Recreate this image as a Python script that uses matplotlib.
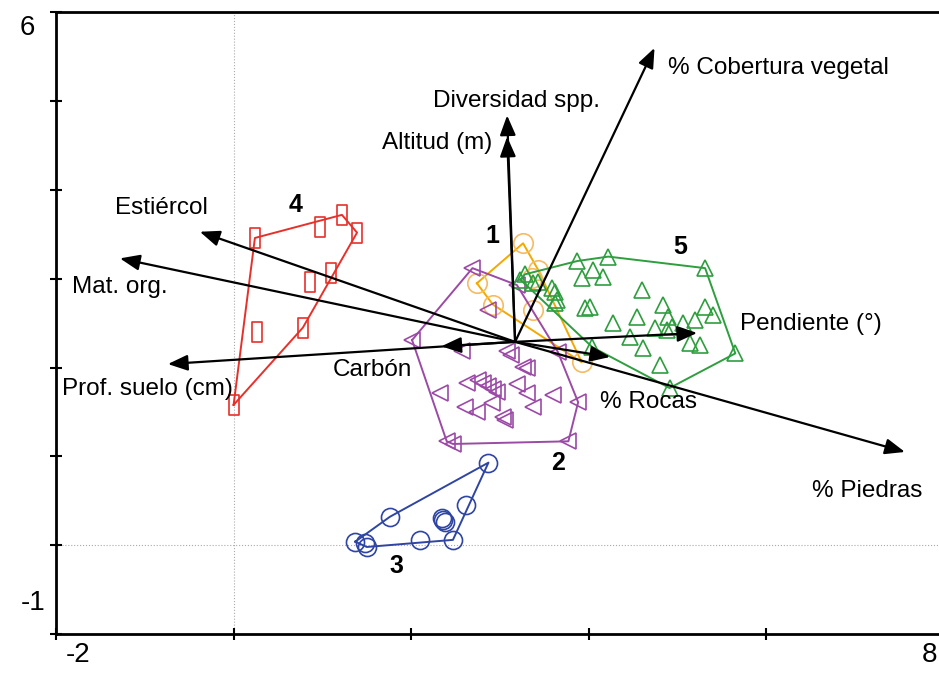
import numpy as np
import matplotlib
matplotlib.use("Agg")
import matplotlib.pyplot as plt
from matplotlib.path import Path

plt.rcParams["font.family"] = ["Liberation Sans", "DejaVu Sans"]

# biplot arrows: origin and tips
arrow_origin = (3.17, 2.29)
arrow_names = ["% Cobertura vegetal", "Diversidad spp.", "Altitud (m)", "Estiércol",
               "Mat. org.", "Prof. suelo (cm)", "Carbón", "Pendiente (°)",
               "% Rocas", "% Piedras"]
arrow_x = [4.74, 3.08, 3.08, -0.38, -1.28, -0.74, 2.34, 5.22, 4.24, 7.56]
arrow_y = [5.60, 4.84, 4.60, 3.53, 3.23, 2.04, 2.24, 2.39, 2.12, 1.05]
label_x = [4.89, 2.25, 1.67, -1.34, -1.82, -1.93, 1.12, 5.70, 4.13, 6.51]
label_y = [5.37, 5.00, 4.53, 3.80, 2.91, 1.76, 1.97, 2.49, 1.61, 0.61]

# groups
g1_x = [3.26, 2.74, 3.43, 3.36, 2.92, 3.37, 3.92]
g1_y = [3.40, 2.95, 3.10, 3.01, 2.71, 2.65, 2.06]

g2_x = [2.01, 2.69, 3.19, 2.87, 2.57, 3.08, 3.12, 3.26, 3.30, 3.65,
        2.63, 2.75, 2.81, 2.87, 2.92, 2.97, 3.19, 3.30, 3.60, 3.88,
        2.32, 2.61, 2.74, 2.91, 3.03, 3.06, 3.37, 2.40, 2.47, 3.77]
g2_y = [2.31, 3.12, 2.93, 2.65, 2.19, 2.19, 2.14, 2.01, 2.00, 2.18,
        1.83, 1.86, 1.83, 1.79, 1.76, 1.73, 1.82, 1.71, 1.69, 1.61,
        1.71, 1.56, 1.50, 1.60, 1.44, 1.41, 1.56, 1.17, 1.14, 1.17]

g3_x = [2.87, 2.62, 1.76, 2.35, 2.36, 2.38, 2.10, 2.47, 1.37, 1.48, 1.50]
g3_y = [0.93, 0.45, 0.32, 0.31, 0.28, 0.26, 0.06, 0.06, 0.04, 0.03, -0.02]

g4_x = [0.00, 0.24, 0.97, 1.22, 1.39, 1.10, 0.86, 0.26, 0.78]
g4_y = [1.58, 3.46, 3.58, 3.72, 3.52, 3.07, 2.96, 2.40, 2.45]

g5_x = [3.28, 3.87, 4.22, 5.31, 3.92, 4.05, 4.16, 4.60, 3.59, 3.64,
        3.62, 3.96, 4.01, 4.27, 4.54, 4.84, 4.89, 5.31, 5.40, 5.20,
        5.06, 4.75, 4.88, 4.94, 4.46, 4.61, 5.14, 5.25, 5.65, 4.80,
        4.91, 4.04, 3.23, 3.37, 3.43, 3.62]
g5_y = [3.05, 3.20, 3.25, 3.12, 3.01, 3.10, 3.02, 2.87, 2.90, 2.76,
        2.73, 2.67, 2.68, 2.50, 2.57, 2.71, 2.57, 2.68, 2.59, 2.54,
        2.50, 2.45, 2.42, 2.46, 2.35, 2.22, 2.28, 2.26, 2.16, 2.03,
        1.77, 2.23, 2.99, 2.95, 2.96, 2.85]

group_names = ["1", "2", "3", "4", "5"]
group_label_x = [2.91, 3.65, 1.83, 0.70, 5.03]
group_label_y = [3.48, 0.93, -0.23, 3.83, 3.36]


def convex_hull(xs, ys):
    pts = sorted(set(zip(xs, ys)))

    def cross(o, a, b):
        return (a[0] - o[0]) * (b[1] - o[1]) - (a[1] - o[1]) * (b[0] - o[0])

    lower = []
    for p in pts:
        while len(lower) >= 2 and cross(lower[-2], lower[-1], p) <= 0:
            lower.pop()
        lower.append(p)
    upper = []
    for p in reversed(pts):
        while len(upper) >= 2 and cross(upper[-2], upper[-1], p) <= 0:
            upper.pop()
        upper.append(p)
    hull = lower[:-1] + upper[:-1]
    hull.append(hull[0])
    return np.array(hull)


rect_marker = Path([(-0.25, -0.5), (0.25, -0.5), (0.25, 0.5), (-0.25, 0.5), (-0.25, -0.5)],
                   [Path.MOVETO, Path.LINETO, Path.LINETO, Path.LINETO, Path.CLOSEPOLY])

groups = [
    (g1_x, g1_y, "o", 14, "#f6bb62", "#f2a900"),
    (g2_x, g2_y, "<", 12, "#9b4aa5", "#9b4aa5"),
    (g3_x, g3_y, "o", 13, "#2f45a3", "#2f45a3"),
    (g4_x, g4_y, rect_marker, 14, "#e8302a", "#e8302a"),
    (g5_x, g5_y, "^", 12, "#2e9e3e", "#2e9e3e"),
]

fig = plt.figure(figsize=(9.39, 6.75), dpi=100)
ax = fig.add_axes([56 / 939, 41 / 675, 888 / 939, 621.6 / 675])
ax.set_xlim(-2, 8)
ax.set_ylim(-1, 6)

ax.axhline(0, color="#aaaaaa", ls=":", lw=0.8, zorder=0)
ax.axvline(0, color="#aaaaaa", ls=":", lw=0.8, zorder=0)

for xs, ys, marker, ms, mcol, hcol in groups:
    hull = convex_hull(xs, ys)
    ax.plot(hull[:, 0], hull[:, 1], color=hcol, lw=1.4, zorder=2)
    ax.plot(xs, ys, ls="none", marker=marker, ms=ms, mfc="none", mec=mcol, mew=1.2, zorder=2)

for name, tx, ty, lx, ly in zip(arrow_names, arrow_x, arrow_y, label_x, label_y):
    ax.annotate("", xy=(tx, ty), xytext=arrow_origin,
                arrowprops=dict(arrowstyle="-|>,head_length=0.5,head_width=0.2", color="black",
                                lw=1.6, mutation_scale=24, shrinkA=0, shrinkB=0), zorder=4)
    ax.text(lx, ly, name, fontsize=17.5, ha="left", va="center", zorder=5)

for name, gx, gy in zip(group_names, group_label_x, group_label_y):
    ax.text(gx, gy, name, fontsize=18, fontweight="bold", ha="center", va="center", zorder=5)

# axis end labels
ax.text(-2.32, 5.82, "6", fontsize=20, ha="center", va="center", clip_on=False)
ax.text(-2.26, -0.65, "-1", fontsize=20, ha="center", va="center", clip_on=False)
ax.text(-1.75, -1.24, "-2", fontsize=20, ha="center", va="center", clip_on=False)
ax.text(7.84, -1.24, "8", fontsize=20, ha="center", va="center", clip_on=False)

ax.set_xticks([-2, 0, 2, 4, 6, 8])
ax.set_yticks(range(-1, 7))
ax.tick_params(direction="inout", length=9, width=1.5, labelbottom=False, labelleft=False)
for s in ax.spines.values():
    s.set_linewidth(2)

fig.savefig("out.png", dpi=100)
